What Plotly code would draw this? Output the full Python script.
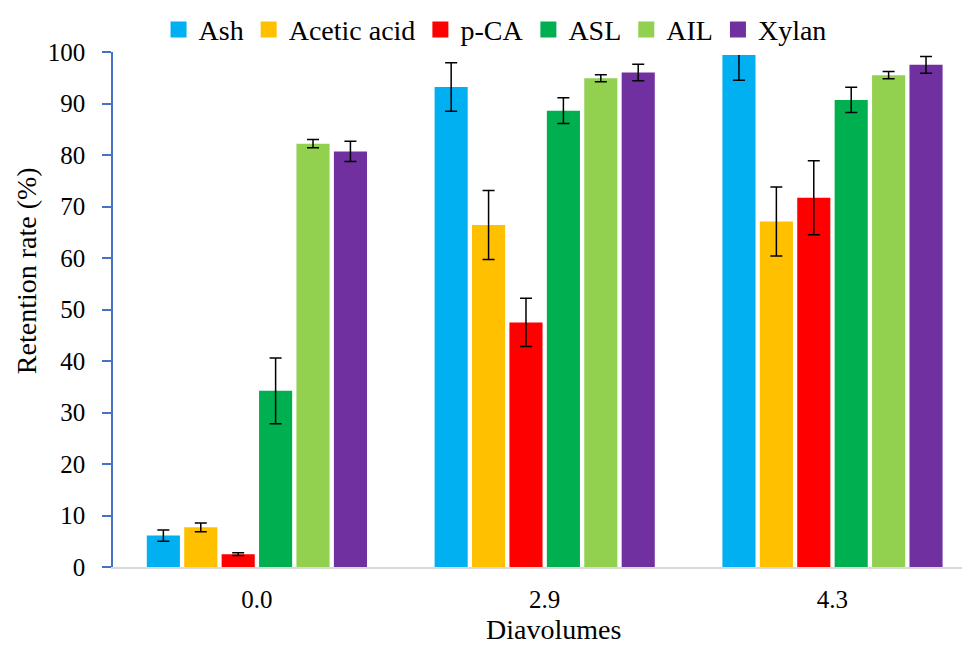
import plotly.graph_objects as go

categories = ["0.0", "2.9", "4.3"]
series_names = ["Ash", "Acetic acid", "p-CA", "ASL", "AIL", "Xylan"]
ash = [6.1, 93.2, 99.7]
ash_err = [1.1, 4.7, 5.2]
acetic = [7.7, 66.4, 67.1]
acetic_err = [0.85, 6.7, 6.7]
pca = [2.5, 47.5, 71.7]
pca_err = [0.25, 4.7, 7.2]
asl = [34.2, 88.6, 90.7]
asl_err = [6.4, 2.5, 2.45]
ail = [82.2, 94.9, 95.5]
ail_err = [0.8, 0.7, 0.7]
xylan = [80.7, 96.0, 97.5]
xylan_err = [1.95, 1.6, 1.65]
colors = ["#00B0F0", "#FFC000", "#FF0000", "#00B050", "#92D050", "#7030A0"]

values = [ash, acetic, pca, asl, ail, xylan]
errors = [ash_err, acetic_err, pca_err, asl_err, ail_err, xylan_err]

FONT = "Liberation Serif"
F_TICK = dict(family=FONT, size=25, color="black")
F_LEG = dict(family=FONT, size=28, color="black")
F_TITLE = dict(family=FONT, size=28, color="black")

fig = go.Figure()
for name, v, e, c in zip(series_names, values, errors, colors):
    fig.add_trace(go.Bar(
        x=categories, y=v, name=name, legendgroup=name, showlegend=False,
        marker=dict(color=c, line=dict(width=0)),
        error_y=dict(type="data", array=e, visible=True, color="black",
                     thickness=1.5, width=6),
    ))
# legend entries with larger square swatches
for name, c in zip(series_names, colors):
    fig.add_trace(go.Scatter(
        x=[None], y=[None], mode="markers", name=name, legendgroup=name,
        marker=dict(symbol="square", size=16, color=c),
    ))

fig.update_layout(
    width=963, height=648,
    margin=dict(l=113, r=1, t=52, b=81, autoexpand=False),
    plot_bgcolor="white", paper_bgcolor="white",
    barmode="group", bargap=0.22, bargroupgap=0.115,
    font=F_TICK,
    showlegend=True,
    legend=dict(orientation="h", x=0.45, xanchor="center", y=1.043,
                yanchor="middle", font=F_LEG, itemwidth=30,
                traceorder="normal", itemsizing="trace"),
    xaxis=dict(type="category", range=[-0.5, 2.45], showline=True,
               linecolor="#D9D9D9", linewidth=2, ticks="", showgrid=False,
               tickfont=F_TICK, automargin=False, ticklabelstandoff=9),
    yaxis=dict(range=[0, 100], dtick=10, showline=True, linecolor="#4472C4",
               linewidth=1.5, ticks="outside", ticklen=9, tickcolor="#4472C4",
               tickwidth=1.5, showgrid=False, zeroline=False,
               tickfont=F_TICK, ticklabelstandoff=12, automargin=False),
    annotations=[
        dict(text="Retention rate (%)", textangle=-90, xref="paper", yref="paper",
             x=-0.101, y=0.575, xanchor="center", yanchor="middle",
             showarrow=False, font=F_TITLE),
        dict(text="Diavolumes", xref="paper", yref="paper",
             x=0.519, y=-0.155, xanchor="center", yanchor="bottom",
             showarrow=False, font=F_TITLE),
    ],
)

fig.write_html("out.html", config={"displayModeBar": False},
               post_script="document.body.style.margin='0';")
